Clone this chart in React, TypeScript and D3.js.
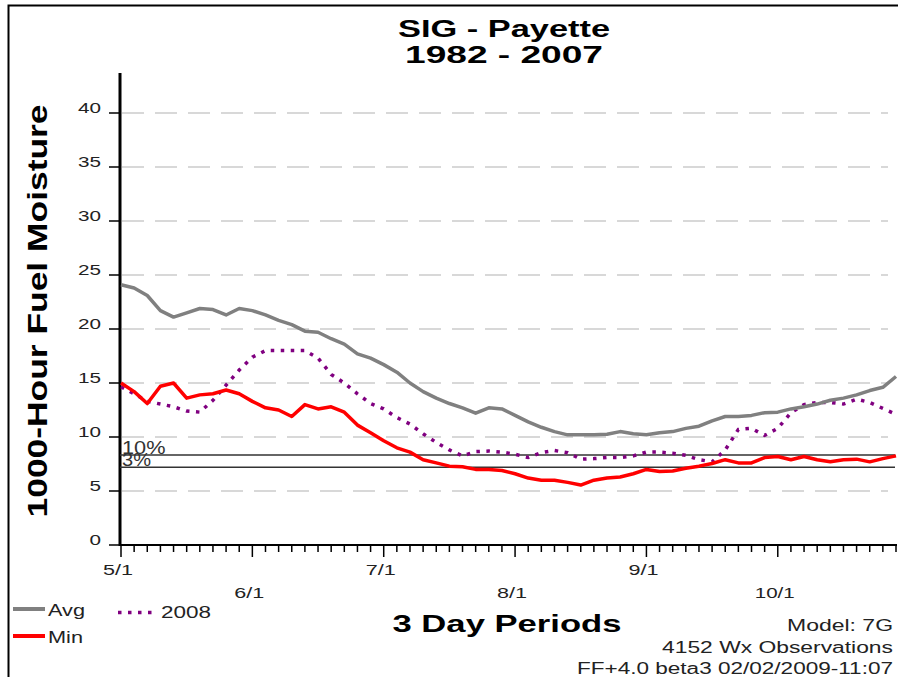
import { useEffect, useRef } from "react";
import * as d3 from "d3";

// 3-day periods, 5/1 .. end of October
const AVG = [
  24.1, 23.8, 23.1, 21.7, 21.1, 21.5, 21.9, 21.8, 21.3, 21.9,
  21.7, 21.3, 20.8, 20.4, 19.8, 19.7, 19.1, 18.6, 17.7, 17.3,
  16.7, 16.0, 15.0, 14.2, 13.6, 13.1, 12.7, 12.2, 12.7, 12.6,
  12.0, 11.4, 10.9, 10.5, 10.2, 10.2, 10.2, 10.25, 10.5, 10.3,
  10.2, 10.4, 10.5, 10.8, 11.0, 11.5, 11.9, 11.9, 12.0, 12.25,
  12.3, 12.6, 12.8, 13.05, 13.4, 13.6, 13.9, 14.3, 14.6, 15.6,
];
const MIN = [
  15.0, 14.2, 13.1, 14.7, 15.0, 13.6, 13.9, 14.0, 14.35, 14.0,
  13.3, 12.7, 12.5, 11.9, 13.0, 12.6, 12.8, 12.3, 11.1, 10.4,
  9.65, 9.0, 8.6, 7.9, 7.6, 7.3, 7.25, 7.0, 7.0, 6.9,
  6.6, 6.2, 6.0, 6.0, 5.8, 5.55, 6.0, 6.2, 6.3, 6.6,
  7.0, 6.8, 6.85, 7.1, 7.3, 7.55, 7.9, 7.6, 7.6, 8.1,
  8.2, 7.9, 8.2, 7.9, 7.7, 7.9, 7.95, 7.7, 8.0, 8.25,
];
const Y2008 = [
  14.65, 14.0, 13.3, 13.05, 12.8, 12.4, 12.3, 13.4, 14.8, 16.2,
  17.4, 18.0, 18.0, 18.0, 18.0, 17.3, 15.8, 15.0, 14.0, 13.1,
  12.6, 11.8, 11.2, 10.3, 9.5, 8.8, 8.25, 8.65, 8.7, 8.6,
  8.4, 8.1, 8.55, 8.75, 8.55, 7.95, 8.0, 8.1, 8.1, 8.25,
  8.6, 8.6, 8.5, 8.3, 7.9, 7.7, 8.8, 10.7, 10.8, 10.15,
  10.8, 12.25, 13.0, 13.2, 13.2, 13.05, 13.5, 13.2, 12.65, 12.1,
];
const MONTHS = ["5/1", "6/1", "7/1", "8/1", "9/1", "10/1"];
const MONTH_IDX = [0, 10, 20, 30, 40, 50];
const Y_TICKS = [0, 5, 10, 15, 20, 25, 30, 35, 40];
const THRESH_LABELS = ["10%", "3%"];
const THRESH_VALUES = [8.33, 7.2];
const FOOTER = ["Model: 7G", "4152 Wx Observations", "FF+4.0 beta3 02/02/2009-11:07"];

const FONT = "'Liberation Sans', Arial, sans-serif";

export default function App() {
  const svgRef = useRef<SVGSVGElement>(null);

  useEffect(() => {
    if (!svgRef.current) return;
    const W = 898, H = 677;
    const svg = d3.select(svgRef.current);
    svg.selectAll("*").remove();
    svg.attr("width", W).attr("height", H);

    const x = d3.scaleLinear().domain([0, AVG.length - 1]).range([121, 896]);
    const y = d3.scaleLinear().domain([0, 40]).range([545, 113]);

    const text = (tx: number, ty: number, s: string, size: number, len: number, opts: any = {}) =>
      svg.append("text")
        .attr("x", tx).attr("y", ty)
        .attr("font-family", FONT)
        .attr("font-size", size)
        .attr("font-weight", opts.bold ? 700 : 400)
        .attr("text-anchor", opts.anchor || "start")
        .attr("fill", opts.fill || "#000")
        .attr("textLength", len)
        .attr("lengthAdjust", "spacingAndGlyphs")
        .attr("transform", opts.transform || null)
        .text(s);

    // frame
    svg.append("rect")
      .attr("x", 8.5).attr("y", 5.5).attr("width", 1000).attr("height", 1000)
      .attr("fill", "none").attr("stroke", "#000").attr("stroke-width", 2);

    // title
    text(504, 37, "SIG - Payette", 24, 212, { bold: true, anchor: "middle" });
    text(504, 63, "1982 - 2007", 24, 198, { bold: true, anchor: "middle" });

    // grid
    svg.append("g").selectAll("line")
      .data(Y_TICKS.filter((d) => d > 0))
      .join("line")
      .attr("x1", 122).attr("x2", 888)
      .attr("y1", (d) => y(d)).attr("y2", (d) => y(d))
      .attr("stroke", "#cccccc").attr("stroke-width", 1.5)
      .attr("stroke-dasharray", "22 11");

    // y axis
    svg.append("line").attr("x1", 120).attr("x2", 120).attr("y1", 73).attr("y2", 546)
      .attr("stroke", "#000").attr("stroke-width", 3);
    Y_TICKS.forEach((t) => {
      svg.append("line").attr("x1", 109).attr("x2", 120).attr("y1", y(t)).attr("y2", y(t))
        .attr("stroke", "#000").attr("stroke-width", 1.5);
      text(101, y(t) - 0.5, String(t), 15, String(t).length * 11.5, { anchor: "end", fill: "#222" });
    });
    text(47, 311, "1000-Hour Fuel Moisture", 28, 413, {
      bold: true, anchor: "middle", transform: "rotate(-90,47,311)",
    });

    // x axis
    svg.append("line").attr("x1", 120).attr("x2", 897).attr("y1", 545).attr("y2", 545)
      .attr("stroke", "#000").attr("stroke-width", 2);
    d3.range(AVG.length).forEach((i) => {
      const major = MONTH_IDX.includes(i);
      svg.append("line").attr("x1", x(i)).attr("x2", x(i)).attr("y1", 545).attr("y2", major ? 557 : 552)
        .attr("stroke", "#000").attr("stroke-width", 1.5);
    });
    MONTHS.forEach((m, k) => {
      text(x(MONTH_IDX[k]) - 3, k % 2 === 0 ? 575 : 598, m, 15, m.length * 10, { anchor: "middle", fill: "#222" });
    });
    text(507, 632, "3 Day Periods", 24, 229, { bold: true, anchor: "middle" });

    // threshold lines
    THRESH_VALUES.forEach((v, k) => {
      svg.append("line").attr("x1", 120).attr("x2", 895).attr("y1", y(v)).attr("y2", y(v))
        .attr("stroke", "#333").attr("stroke-width", 1.5);
      text(122, y(v) - 1, THRESH_LABELS[k], 18, THRESH_LABELS[k].length * 14.5, { fill: "#333" });
    });

    const line = d3.line<number>().x((_, i) => x(i)).y((d) => y(d));
    svg.append("path").attr("d", line(Y2008)).attr("fill", "none")
      .attr("stroke", "#800080").attr("stroke-width", 3.5).attr("stroke-dasharray", "3.5 6.5");
    svg.append("path").attr("d", line(AVG)).attr("fill", "none")
      .attr("stroke", "#808080").attr("stroke-width", 3.5).attr("stroke-linejoin", "round");
    svg.append("path").attr("d", line(MIN)).attr("fill", "none")
      .attr("stroke", "#ff0000").attr("stroke-width", 3.5).attr("stroke-linejoin", "round");

    // legend
    svg.append("line").attr("x1", 13).attr("x2", 45).attr("y1", 609).attr("y2", 609)
      .attr("stroke", "#808080").attr("stroke-width", 4);
    text(48, 616, "Avg", 17, 37, { fill: "#222" });
    svg.append("line").attr("x1", 13).attr("x2", 45).attr("y1", 636).attr("y2", 636)
      .attr("stroke", "#ff0000").attr("stroke-width", 4);
    text(48, 643, "Min", 17, 35, { fill: "#222" });
    svg.append("line").attr("x1", 118).attr("x2", 155).attr("y1", 612.5).attr("y2", 612.5)
      .attr("stroke", "#800080").attr("stroke-width", 3.5).attr("stroke-dasharray", "3.5 6.5");
    text(161, 618, "2008", 17, 50, { fill: "#222" });

    // footer
    const footLens = [106, 231, 316];
    FOOTER.forEach((s, k) => {
      text(893, 631 + k * 21.5, s, 16, footLens[k], { anchor: "end", fill: "#222" });
    });
  }, []);

  return (
    <div style={{ position: "absolute", left: 0, top: 0, background: "#fff" }}>
      <svg ref={svgRef} style={{ display: "block" }} />
    </div>
  );
}
